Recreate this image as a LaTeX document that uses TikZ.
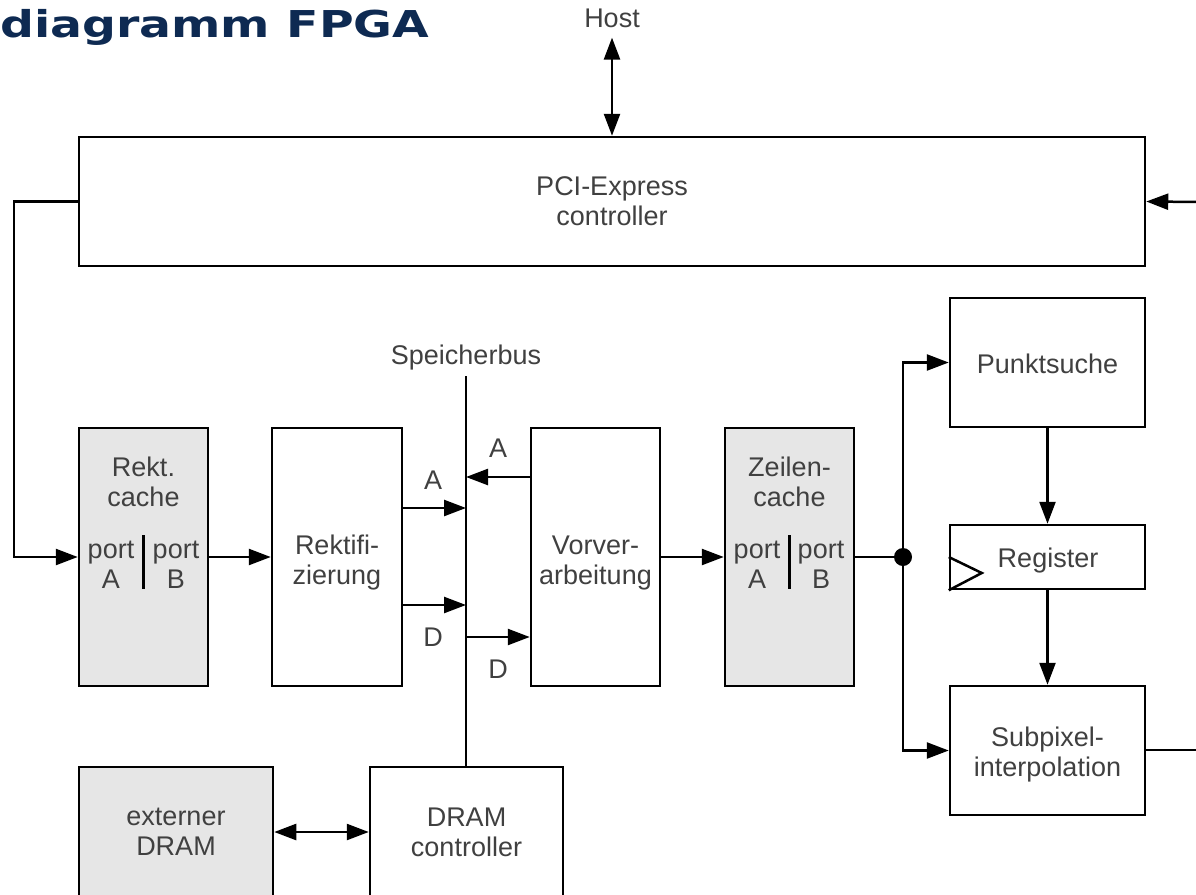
\documentclass[tikz,border=0pt]{standalone}
\usepackage{fontspec}
\setmainfont{Liberation Sans}
\newfontfamily\titlefont{DejaVu Sans}
\usetikzlibrary{arrows.meta}
\definecolor{titleblue}{RGB}{14,42,82}
\definecolor{txtgray}{RGB}{64,64,64}
\definecolor{boxgray}{RGB}{230,230,230}
\begin{document}
\begin{tikzpicture}[x=1pt,y=-1pt,
  every node/.style={font=\fontsize{27}{30}\selectfont, text=txtgray, align=center},
  blk/.style={draw=black, line width=2.5pt, fill=white, inner sep=0pt},
  grayblk/.style={blk, fill=boxgray},
  conn/.style={line width=2.5pt},
  arr/.style={conn, -{Triangle[length=22pt,width=16pt]}},
  dblarr/.style={conn, {Triangle[length=22pt,width=16pt]}-{Triangle[length=22pt,width=16pt]}},
  lbl/.style={inner sep=0pt}
]
\useasboundingbox (0,0) rectangle (1196,894);
\clip (0,0) rectangle (1196,894);

% title
\node[anchor=base west, inner sep=0pt, xscale=1.28, transform shape, font=\titlefont\bfseries\fontsize{37}{42}\selectfont, text=titleblue] (title) at (0,37) {diagramm FPGA};

% blocks
\node[blk, minimum width=1066pt, minimum height=129pt] (pci) at (612,201.5) {PCI-Express\\controller};
\node[lbl] (host) at (612,18) {Host};

\node[grayblk, minimum width=129pt, minimum height=258pt] (rekt) at (143.5,557) {};
\node[lbl] (rektt) at (143.5,482) {Rekt.\\cache};
\node[lbl] (rektpa) at (111,565) {port\\A};
\node[lbl] (rektpb) at (176,565) {port\\B};
\coordinate (rektd1) at (143,535);
\coordinate (rektd2) at (143,589);

\node[blk, minimum width=130pt, minimum height=258pt] (rektif) at (337,557) {};
\node[lbl] (rektift) at (337,563) {Rektifi-\\zierung};
\node[blk, minimum width=129pt, minimum height=258pt] (vorv) at (595.5,557) {};
\node[lbl] (vorvt) at (595.5,563) {Vorver-\\arbeitung};

\node[grayblk, minimum width=129pt, minimum height=258pt] (zeil) at (789.5,557) {};
\node[lbl] (zeilt) at (789.5,482) {Zeilen-\\cache};
\node[lbl] (zeilpa) at (757,565) {port\\A};
\node[lbl] (zeilpb) at (821,565) {port\\B};
\coordinate (zeild1) at (789,535);
\coordinate (zeild2) at (789,589);

\node[blk, minimum width=195pt, minimum height=129pt] (punkt) at (1047.5,362.5) {};
\node[lbl] (punktt) at (1047.5,364) {Punktsuche};
\node[blk, minimum width=195pt, minimum height=64pt] (reg) at (1047.5,557) {};
\node[lbl] (regt) at (1048,561) {Register};
\node[blk, minimum width=195pt, minimum height=129pt] (subpix) at (1047.5,750.5) {};
\node[lbl] (subpixt) at (1047.5,755) {Subpixel-\\interpolation};

\node[grayblk, minimum width=194pt, minimum height=130pt] (extd) at (176,832) {externer\\DRAM};
\node[blk, minimum width=193pt, minimum height=130pt] (dramc) at (466.5,832) {DRAM\\controller};

% bus
\node[lbl] (sbus) at (466,358) {Speicherbus};
\coordinate (bustop) at (466,376);
\coordinate (busbot) at (466,767);
\draw[conn] (bustop) -- (busbot);

% helper coordinates
\coordinate (yA1) at (0,508);
\coordinate (yD1) at (0,605);
\coordinate (yA2) at (0,477);
\coordinate (yD2) at (0,637);
\coordinate (lx) at (14,0);
\coordinate (rin) at (1200,202);
\coordinate (rout) at (1200,750);

% port dividers
\draw[line width=3pt] (rektd1) -- (rektd2);
\draw[line width=3pt] (zeild1) -- (zeild2);

% connectors
\draw[dblarr] (host.south) ++(0,10) coordinate (hostarr) (hostarr) -- (pci.north);
\draw[arr] (rin) -- (pci.east);
\draw[arr] (pci.west) -- (pci.west -| lx) |- (rekt.west);
\draw[arr] (rekt.east) -- (rektif.west);

\draw[arr] (rektif.east |- yA1) -- (bustop |- yA1);
\node[lbl] (la1) at (433,480) {A};
\draw[arr] (rektif.east |- yD1) -- (bustop |- yD1);
\node[lbl] (ld1) at (433,637) {D};
\draw[arr] (vorv.west |- yA2) -- (bustop |- yA2);
\node[lbl] (la2) at (498,448) {A};
\draw[arr] (bustop |- yD2) -- (vorv.west |- yD2);
\node[lbl] (ld2) at (498,669) {D};

\draw[arr] (vorv.east) -- (zeil.west);

\node[circle, fill=black, inner sep=0pt, minimum size=18pt] (dot) at (903,557) {};
\draw[conn] (zeil.east) -- (dot.center);
\draw[arr] (dot.center) |- (punkt.west);
\draw[arr] (dot.center) |- (subpix.west);

\draw[arr] (punkt.south) -- (reg.north);
\draw[arr] (reg.south) -- (subpix.north);
\draw[line width=2.5pt, line join=miter] (reg.west) -- ++(33,16) -- (reg.south west);
\draw[conn] (subpix.east |- rout) -- (rout);

\draw[dblarr] (extd.east) -- (dramc.west);
\end{tikzpicture}
\end{document}
